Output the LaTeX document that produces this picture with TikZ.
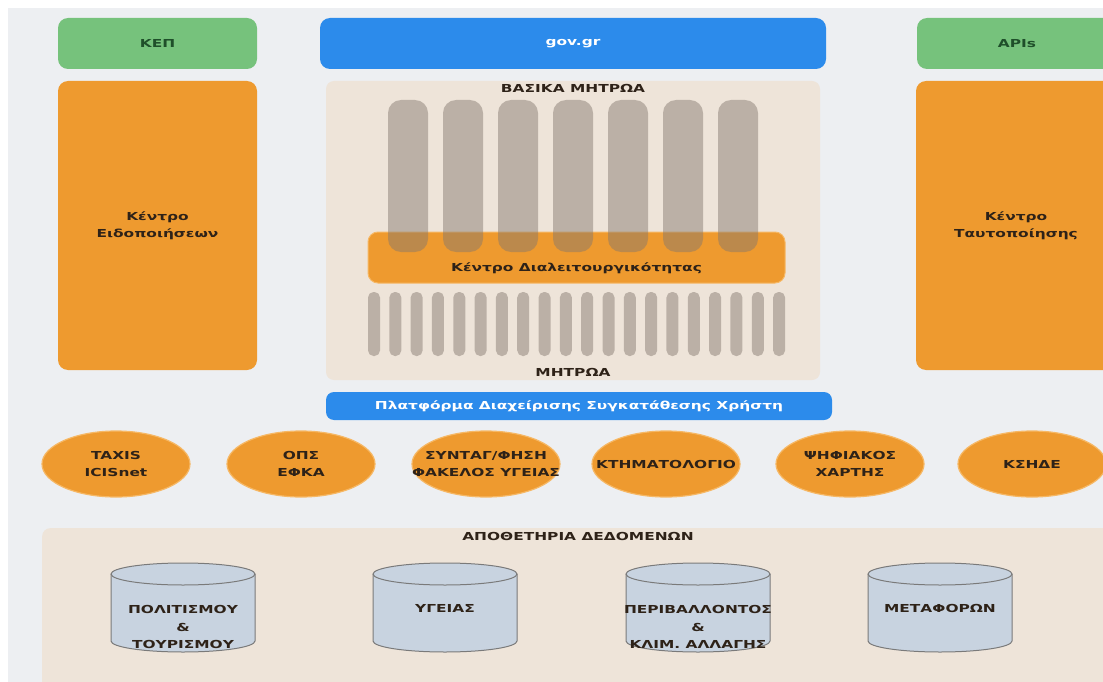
\documentclass[tikz,border=0pt]{standalone}
\usepackage{fontspec}
\newfontfamily\lbl[FakeStretch=1.4]{DejaVu Sans}
\usetikzlibrary{shapes.geometric}
\definecolor{bggray}{HTML}{EDEFF2}
\definecolor{beige}{HTML}{EEE4D9}
\definecolor{orng}{HTML}{EE9A2F}
\definecolor{orngline}{HTML}{F6B865}
\definecolor{blu}{HTML}{2C8BEB}
\definecolor{grn}{HTML}{76C27C}
\definecolor{darktxt}{HTML}{2E2218}
\definecolor{grntxt}{HTML}{1F4F2A}
\definecolor{cylfill}{HTML}{C8D3E0}
\definecolor{cylline}{HTML}{7A7A7A}
\definecolor{pillarc}{HTML}{83776E}
\begin{document}
\begin{tikzpicture}[x=1pt,y=-1pt,
  every node/.style={font=\lbl\bfseries\fontsize{11}{17.5}\selectfont, align=center, inner sep=0pt, text=darktxt},
  greenbox/.style={fill=grn, rounded corners=10pt, text=grntxt},
  bluebox/.style={fill=blu, rounded corners=10pt, text=white},
  orangebox/.style={fill=orng, rounded corners=10pt},
  panel/.style={fill=beige, rounded corners=8pt},
  bigpillar/.style={fill=pillarc, fill opacity=0.47, rounded corners=13pt, minimum width=40pt, minimum height=152pt},
  smallpillar/.style={fill=pillarc, fill opacity=0.47, rounded corners=5.5pt, minimum width=12pt, minimum height=64pt},
  src/.style={ellipse, fill=orng, draw=orngline, line width=1.2pt, minimum width=148pt, minimum height=66pt},
  cyl/.style={fill=cylfill, draw=cylline, line width=1pt}
]
\useasboundingbox (0,0) rectangle (1103,682);
\clip (0,0) rectangle (1103,682);
\fill[white] (0,0) rectangle (1103,682);
\fill[bggray] (8,8) rectangle (1120,700);

% top row
\node[greenbox, minimum width=199pt, minimum height=51pt] (kep) at (157.5,43.5) {ΚΕΠ};
\node[bluebox, minimum width=506pt, minimum height=51pt] (gov) at (573,43.5) {gov.gr};
\node[greenbox, minimum width=200pt, minimum height=51pt, text width=200pt] (apis) at (1017,43.5) {APIs};

% side columns
\node[orangebox, minimum width=199pt, minimum height=289pt] (notif) at (157.5,225.5) {Κέντρο\\Ειδοποιήσεων};
\node[orangebox, minimum width=200pt, minimum height=289pt] (ident) at (1016,225.5) {Κέντρο\\Ταυτοποίησης};

% central panel
\node[panel, minimum width=494pt, minimum height=299pt] (regpanel) at (573,230.5) {};
\node (basic) at (573,88) {ΒΑΣΙΚΑ ΜΗΤΡΩΑ};
\node[orangebox, draw=orngline, line width=1pt, minimum width=417pt, minimum height=51pt] (interop) at (576.5,257.5) {};
\foreach \i in {0,...,6}{
  \node[bigpillar] (bp\i) at ({408+55*\i},176) {};
}
\node (interoptxt) at (576.5,268) {Κέντρο Διαλειτουργικότητας};
\foreach \i in {0,...,19}{
  \node[smallpillar] (sp\i) at ({374+21.32*\i},324) {};
}
\node (registries) at (573,372) {ΜΗΤΡΩΑ};

% consent platform
\node[bluebox, rounded corners=8pt, minimum width=506pt, minimum height=28pt] (consent) at (579,406) {Πλατφόρμα Διαχείρισης Συγκατάθεσης Χρήστη};

% source systems
\foreach \cx/\nm/\txt in {116/taxis/{TAXIS\\ICISnet}, 301/efka/{ΟΠΣ\\ΕΦΚΑ}, 486/health/{ΣΥΝΤΑΓ/ΦΗΣΗ\\ΦΑΚΕΛΟΣ ΥΓΕΙΑΣ}, 666/ktima/{ΚΤΗΜΑΤΟΛΟΓΙΟ}, 850/map/{ΨΗΦΙΑΚΟΣ\\ΧΑΡΤΗΣ}, 1032/kside/{ΚΣΗΔΕ}}{
  \node[src] (\nm) at (\cx,464) {};
  \node (\nm txt) at (\nm) {\txt};
}

% data repositories
\node[panel, minimum width=1080pt, minimum height=170pt, anchor=north west] (repo) at (42,528) {};
\node (repotitle) at (578,536) {ΑΠΟΘΕΤΗΡΙΑ ΔΕΔΟΜΕΝΩΝ};
\foreach \cx in {183,445,698,940}{
  \draw[cyl] (\cx-72,574) -- (\cx-72,641) arc (180:0:72 and 11) -- (\cx+72,574) arc (0:-180:72 and 11) -- cycle;
  \draw[cyl, fill=none] (\cx-72,574) arc (180:0:72 and 11);
}
\node (cult) at (183,627) {ΠΟΛΙΤΙΣΜΟΥ\\\&\\ΤΟΥΡΙΣΜΟΥ};
\node (hlth) at (445,608) {ΥΓΕΙΑΣ};
\node (env) at (698,627) {ΠΕΡΙΒΑΛΛΟΝΤΟΣ\\\&\\ΚΛΙΜ. ΑΛΛΑΓΗΣ};
\node (transp) at (940,608) {ΜΕΤΑΦΟΡΩΝ};
\end{tikzpicture}
\end{document}
